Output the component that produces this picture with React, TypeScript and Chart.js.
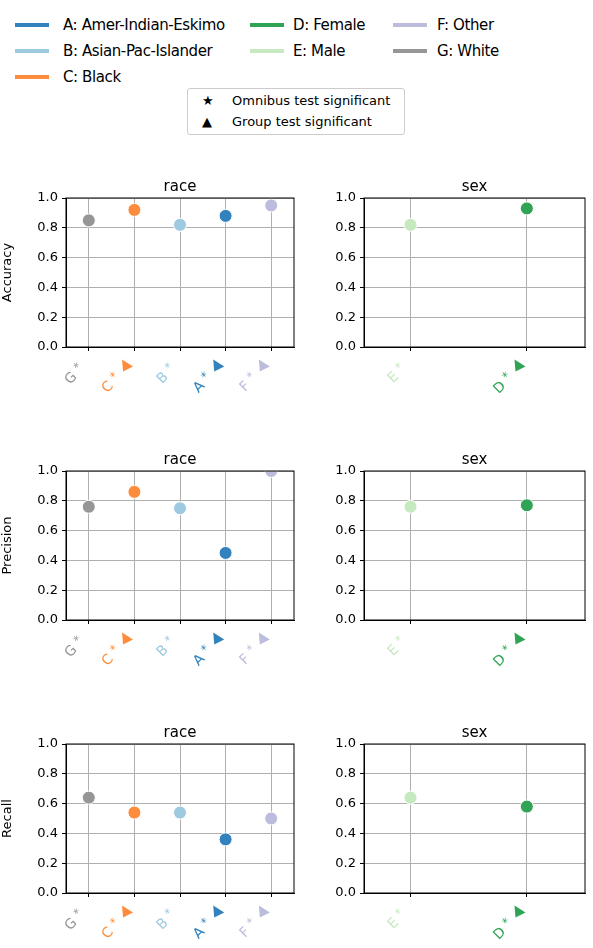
import { useEffect, useRef } from "react";
import { Chart, registerables } from "chart.js";

Chart.register(...registerables);

const FONT = "DejaVu Sans";

// groups: letter, name, colour
const groupKeys = ["A", "B", "C", "D", "E", "F", "G"];
const groupNames = ["Amer-Indian-Eskimo", "Asian-Pac-Islander", "Black", "Female", "Male", "Other", "White"];
const groupColors = ["#3182bd", "#9ecae1", "#fd8d3c", "#31a354", "#c7e9c0", "#bcbddc", "#969696"];

const raceOrder = ["G", "C", "B", "A", "F"];
const sexOrder = ["E", "D"];
const raceGroupSig = [false, true, false, true, true];
const sexGroupSig = [false, true];

const metrics = ["Accuracy", "Precision", "Recall"];
const raceValues = [
  [0.85, 0.92, 0.82, 0.88, 0.95],
  [0.76, 0.86, 0.75, 0.45, 1.0],
  [0.64, 0.54, 0.54, 0.36, 0.5],
];
const sexValues = [
  [0.82, 0.93],
  [0.76, 0.77],
  [0.64, 0.58],
];

const colorOf = (k: string) => groupColors[groupKeys.indexOf(k)];

function Panel(props: {
  title: string; metric: string; keys: string[]; values: number[]; sig: boolean[];
  left: boolean; xmin: number; xmax: number;
}) {
  const ref = useRef<HTMLCanvasElement | null>(null);
  useEffect(() => {
    const canvas = ref.current;
    if (!canvas) return;
    const { keys, values, sig } = props;
    const deco = {
      id: "deco",
      afterDraw(chart: any) {
        const ctx = chart.ctx;
        const a = chart.chartArea;
        const xs = chart.scales.x;
        ctx.save();
        ctx.strokeStyle = "#000";
        ctx.lineWidth = 1;
        ctx.strokeRect(a.left, a.top, a.right - a.left, a.bottom - a.top);
        ctx.fillStyle = "#000";
        ctx.font = `15px ${FONT}`;
        ctx.textAlign = "center";
        ctx.textBaseline = "bottom";
        ctx.fillText(props.title, (a.left + a.right) / 2, a.top - 3);
        keys.forEach((k, i) => {
          const px = xs.getPixelForValue(i);
          ctx.save();
          ctx.translate(px - 1, a.bottom + 15);
          ctx.rotate(-Math.PI / 4);
          ctx.textBaseline = "middle";
          ctx.textAlign = "left";
          ctx.fillStyle = colorOf(k);
          ctx.font = `14px ${FONT}`;
          const lw = ctx.measureText(k + " ").width;
          ctx.font = `12px ${FONT}`;
          const sw = ctx.measureText("*  ").width;
          const tw = sig[i] ? 13 : 0;
          let x = -(lw + sw + tw);
          ctx.font = `14px ${FONT}`;
          ctx.fillText(k, x, 0);
          x += lw;
          ctx.font = `12px ${FONT}`;
          ctx.fillText("*", x, -3);
          x += sw;
          if (sig[i]) {
            ctx.translate(x + 6, -2);
            ctx.rotate(Math.PI / 4);
            ctx.beginPath();
            ctx.moveTo(-5, -6);
            ctx.lineTo(6, 1);
            ctx.lineTo(-4, 6);
            ctx.closePath();
            ctx.fill();
          }
          ctx.restore();
        });
        ctx.restore();
      },
    };
    const chart = new Chart(canvas, {
      type: "scatter",
      data: {
        datasets: [{
          data: values.map((v, i) => ({ x: i, y: v })),
          pointBackgroundColor: keys.map(colorOf),
          pointBorderColor: "#fff",
          pointBorderWidth: 1,
          pointRadius: 6.5,
        }],
      },
      options: {
        animation: false,
        responsive: false,
        layout: { padding: { top: 38, right: 8, left: 0, bottom: 0 } },
        plugins: { legend: { display: false }, tooltip: { enabled: false } },
        scales: {
          x: {
            type: "linear", min: props.xmin, max: props.xmax,
            afterBuildTicks: (s: any) => { s.ticks = keys.map((_, i) => ({ value: i })); },
            afterFit: (s: any) => { s.height = 60; },
            ticks: { callback: () => "", autoSkip: false },
            grid: { color: "#b0b0b0", tickColor: "#000", tickLength: 4 },
            border: { color: "#000" },
          },
          y: {
            min: 0, max: 1,
            afterFit: (s: any) => { s.width = props.left ? 66 : 54; },
            ticks: { stepSize: 0.2, color: "#000", font: { family: FONT, size: 13 }, padding: 4, callback: (v: any) => Number(v).toFixed(1) },
            grid: { color: "#b0b0b0", tickColor: "#000", tickLength: 4 },
            border: { color: "#000" },
            title: { display: props.left, text: props.metric, color: "#000", font: { family: FONT, size: 13 }, padding: { top: 0, bottom: 6 } },
          },
        },
      },
      plugins: [deco],
    });
    return () => chart.destroy();
  }, []);
  const w = props.left ? 302 : 283;
  return <canvas ref={ref} width={w} height={247} style={{ width: w, height: 247, display: "block" }} />;
}

export default function App() {
  const legendCols = [[0, 1, 2], [3, 4], [5, 6]];
  const colX = [[15, 63], [250, 293], [393, 437]];
  return (
    <div style={{ position: "absolute", left: 0, top: 0, width: 593, height: 948, background: "#fff", fontFamily: FONT }}>
      {legendCols.map((col, c) =>
        col.map((g, r) => (
          <div key={g}>
            <div style={{ position: "absolute", left: colX[c][0], top: 23 + r * 26, width: 34, height: 4, background: groupColors[g] }} />
            <div style={{ position: "absolute", left: colX[c][1], top: 14 + r * 26, fontSize: 15, lineHeight: "22px", whiteSpace: "nowrap", letterSpacing: -0.4 }}>
              {groupKeys[g]}: {groupNames[g]}
            </div>
          </div>
        ))
      )}
      <div style={{ position: "absolute", left: 187, top: 88, width: 216, height: 45, border: "1px solid #ccc", borderRadius: 3, fontSize: 13 }}>
        <div style={{ position: "absolute", left: 14, top: 4 }}>★</div>
        <div style={{ position: "absolute", left: 44, top: 4, whiteSpace: "nowrap" }}>Omnibus test significant</div>
        <div style={{ position: "absolute", left: 14, top: 25 }}>▲</div>
        <div style={{ position: "absolute", left: 44, top: 25, whiteSpace: "nowrap" }}>Group test significant</div>
      </div>
      {metrics.map((m, i) => (
        <div key={m}>
          <div style={{ position: "absolute", left: 0, top: 160 + i * 273 }}>
            <Panel title="race" metric={m} keys={raceOrder} values={raceValues[i]} sig={raceGroupSig} left={true} xmin={-0.5} xmax={4.5} />
          </div>
          <div style={{ position: "absolute", left: 310, top: 160 + i * 273 }}>
            <Panel title="sex" metric={m} keys={sexOrder} values={sexValues[i]} sig={sexGroupSig} left={false} xmin={-0.4} xmax={1.5} />
          </div>
        </div>
      ))}
    </div>
  );
}
